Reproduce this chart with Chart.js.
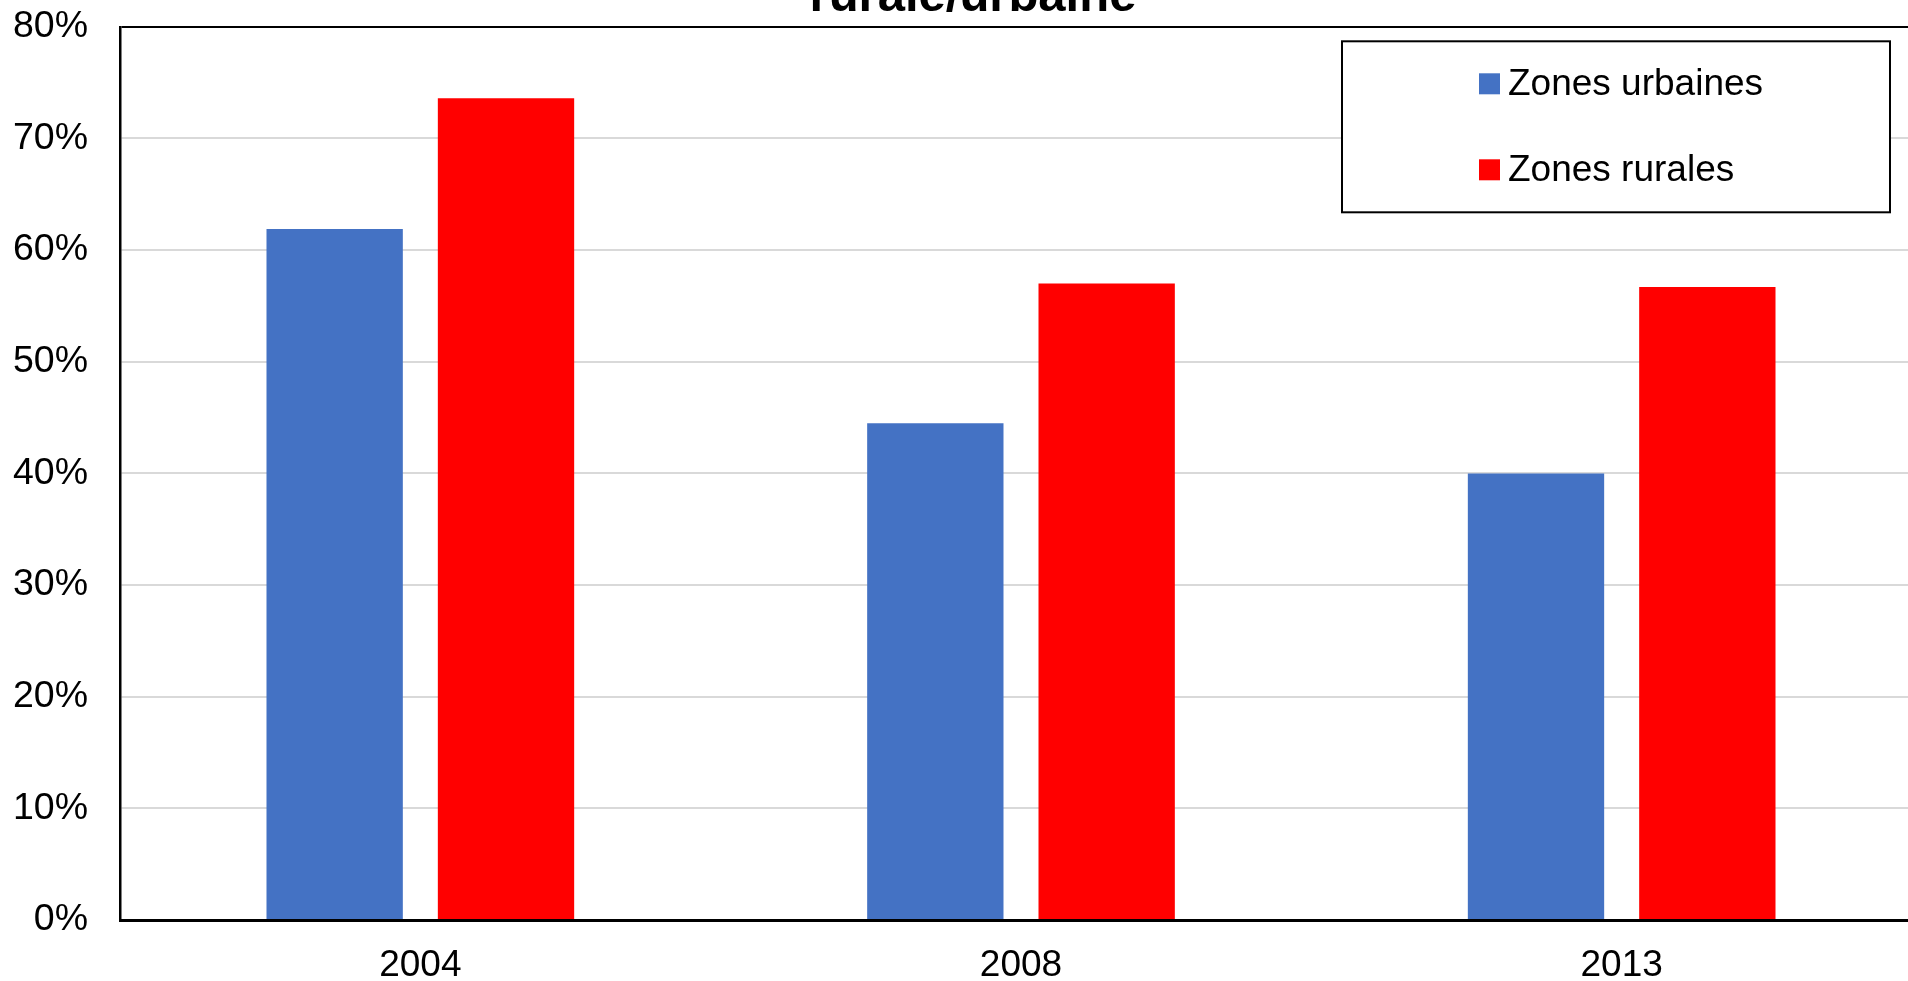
<!DOCTYPE html>
<html>
<head>
<meta charset="utf-8">
<script src="https://cdn.jsdelivr.net/npm/chart.js@4"></script>
<style>
  html,body{margin:0;padding:0;background:#fff;overflow:hidden;width:1908px;height:981px;}
  #wrap{position:absolute;left:0;top:-32px;width:1922px;height:1022px;}
</style>
</head>
<body>
<div id="wrap"><canvas id="chart"></canvas></div>
<script>
const years = ['2004','2008','2013'];
const urbaines = [61.9, 44.5, 40.0];
const rurales = [73.6, 57.0, 56.7];
const seriesNames = ['Zones urbaines','Zones rurales'];
const seriesColors = ['#4472C4','#FF0000'];
const titleText = 'rurale/urbaine';

Chart.defaults.font.family = '"Liberation Sans", Arial, sans-serif';
Chart.defaults.color = '#000';

// title sits a bit left of the plot centre (chart is cut on the right)
const offsetTitle = {
  id:'offsetTitle',
  afterDraw(chart){
    const ctx = chart.ctx, a = chart.chartArea;
    ctx.save();
    ctx.font = 'bold 49px "Liberation Sans", Arial, sans-serif';
    ctx.fillStyle = '#000';
    ctx.textAlign = 'center';
    ctx.textBaseline = 'middle';
    ctx.fillText(titleText, (a.left + a.right) / 2 - 48, a.top - 29.4);
    ctx.restore();
  }
};

// boxed legend drawn inside the plot, top right
const boxLegend = {
  id:'boxLegend',
  afterDraw(chart){
    const ctx = chart.ctx, a = chart.chartArea;
    const w = 548, h = 171;
    const x = a.right - 32 - w, y = a.top + 14.5;
    ctx.save();
    ctx.fillStyle = '#fff';
    ctx.fillRect(x, y, w, h);
    ctx.strokeStyle = '#000';
    ctx.lineWidth = 2;
    ctx.strokeRect(x, y, w, h);
    ctx.font = '37px "Liberation Sans", Arial, sans-serif';
    ctx.textBaseline = 'middle';
    ctx.textAlign = 'left';
    chart.data.datasets.forEach((ds, i)=>{
      const cy = y + 42.5 + i*86;
      ctx.fillStyle = ds.backgroundColor;
      ctx.fillRect(x + 137, cy - 10.5, 21, 21);
      ctx.fillStyle = '#000';
      ctx.fillText(ds.label, x + 166, cy + 1);
    });
    ctx.restore();
  }
};

new Chart(document.getElementById('chart'), {
  type:'bar',
  data:{
    labels: years,
    datasets:[
      {label:seriesNames[0], data:urbaines, backgroundColor:seriesColors[0], barPercentage:0.7957, categoryPercentage:0.5705},
      {label:seriesNames[1], data:rurales, backgroundColor:seriesColors[1], barPercentage:0.7957, categoryPercentage:0.5705}
    ]
  },
  options:{
    responsive:true, maintainAspectRatio:false, animation:false,
    layout:{padding:{left:0, right:0, top:58.8, bottom:0}},
    plugins:{
      legend:{display:false},
      tooltip:{enabled:false},
      title:{display:false}
    },
    scales:{
      x:{
        grid:{display:false, drawTicks:false},
        border:{display:true, color:'#000', width:3},
        ticks:{font:{size:37}, color:'#000', padding:24},
        afterFit: s => { s.height = 70; }
      },
      y:{
        min:0, max:80,
        ticks:{stepSize:10, font:{size:37.5}, color:'#000', padding:32, callback:v => v + '%'},
        grid:{drawTicks:false, lineWidth:2, color: c => c.tick && c.tick.value === 80 ? '#000' : '#d9d9d9'},
        border:{display:true, color:'#000', width:2.5},
        afterFit: s => { s.width = 120; }
      }
    }
  },
  plugins:[offsetTitle, boxLegend]
});
</script>
</body>
</html>
